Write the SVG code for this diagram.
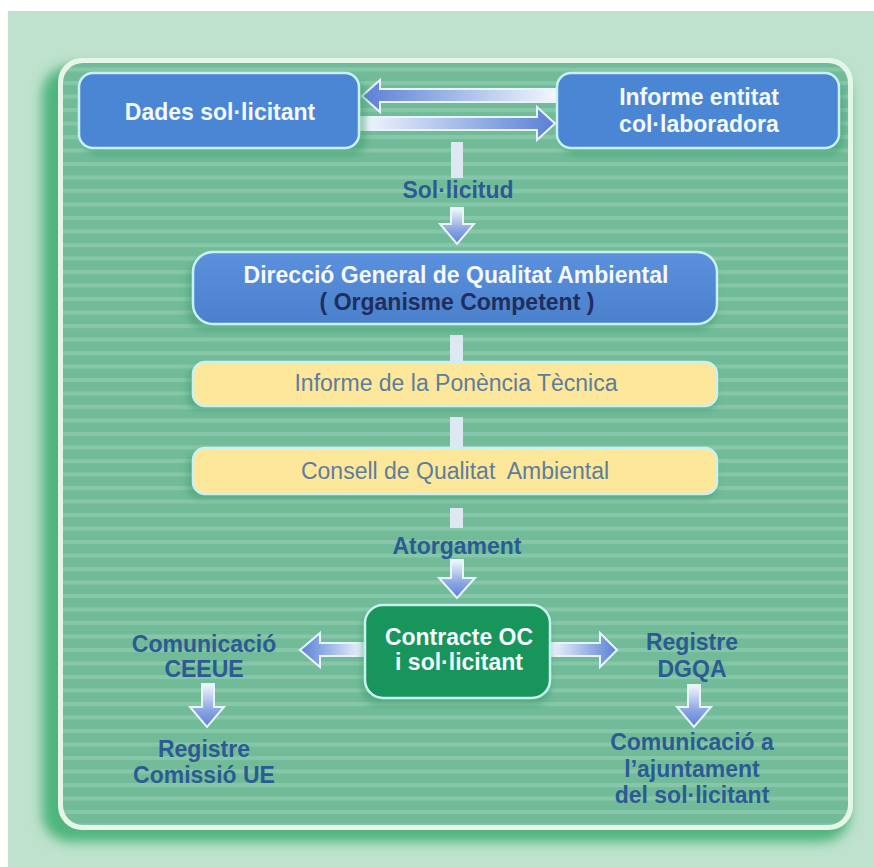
<svg xmlns="http://www.w3.org/2000/svg" width="874" height="867" viewBox="0 0 874 867">
<defs>
  <pattern id="stripes" x="0" y="0" width="20" height="13.5" patternUnits="userSpaceOnUse">
    <rect width="20" height="13.5" fill="#72bb99"/>
    <rect y="0" width="20" height="4" fill="#87c7a9"/>
  </pattern>
  <linearGradient id="gR" x1="0" y1="0" x2="1" y2="0">
    <stop offset="0" stop-color="#f4f8fc"/><stop offset="0.75" stop-color="#7f9ee0"/><stop offset="1" stop-color="#5b7fd6"/>
  </linearGradient>
  <linearGradient id="gL" x1="1" y1="0" x2="0" y2="0">
    <stop offset="0" stop-color="#f4f8fc"/><stop offset="0.75" stop-color="#7f9ee0"/><stop offset="1" stop-color="#5b7fd6"/>
  </linearGradient>
  <linearGradient id="gD" x1="0" y1="0" x2="0" y2="1">
    <stop offset="0" stop-color="#f4f8fc"/><stop offset="0.6" stop-color="#8aa6e2"/><stop offset="1" stop-color="#5b7fd6"/>
  </linearGradient>
  <linearGradient id="gBlue" x1="0" y1="0" x2="0" y2="1">
    <stop offset="0" stop-color="#5a90dc"/><stop offset="1" stop-color="#4a80cc"/>
  </linearGradient>
  <filter id="blur" x="-10%" y="-10%" width="120%" height="120%"><feGaussianBlur stdDeviation="6"/></filter>
  <filter id="sh" x="-10%" y="-20%" width="130%" height="160%"><feGaussianBlur stdDeviation="3"/></filter>
</defs>
<style>
  .lbl{font-family:"Liberation Sans",Arial,sans-serif;font-weight:bold;font-size:23px;fill:#2c5b93;text-anchor:middle}
  .wt{font-family:"Liberation Sans",Arial,sans-serif;font-weight:bold;font-size:23px;fill:#f4f8ff;text-anchor:middle}
  .yt{font-family:"Liberation Sans",Arial,sans-serif;font-size:23px;fill:#5d7d9c;text-anchor:middle}
  .nv{font-family:"Liberation Sans",Arial,sans-serif;font-weight:bold;font-size:23px;fill:#1f2e5c;text-anchor:middle}
  .blue{fill:#4a86d4;stroke:#c9f1f2;stroke-width:2.5}
  .yel{fill:#fde79a;stroke:#c9f1f2;stroke-width:2.5}
  .grn{fill:#17955b;stroke:#c9f1f2;stroke-width:2.5}
  .shd{fill:#3f9f6f;opacity:0.5}
  .arr{stroke:#e8f4f8;stroke-width:2;stroke-linejoin:miter}
  .seg{fill:#dde8f2}
</style>
<rect x="0" y="0" width="874" height="867" fill="#ffffff"/>
<rect x="8" y="11" width="866" height="856" fill="#bee2cd"/>
<!-- panel -->
<rect x="42" y="66" width="808" height="776" rx="28" fill="#4fb57d" filter="url(#blur)"/>
<rect x="58" y="58" width="795" height="772" rx="24" fill="#e6f5e8"/>
<rect x="63" y="63" width="785" height="762" rx="20" fill="url(#stripes)"/>

<!-- connectors -->
<g id="connectors">
  <polygon class="arr" fill="url(#gL)" points="557,89 380,89 380,80 362,96 380,112 380,102 557,102"/>
  <polygon class="arr" fill="url(#gR)" points="360,117 537,117 537,107 555,123.5 537,140 537,130 360,130"/>
  <rect class="seg" x="451" y="142" width="12" height="36" fill="#eef2f8"/>
  <polygon class="arr" fill="url(#gD)" points="451,208 463,208 463,224 474,224 457,244 440,224 451,224"/>
  <rect class="seg" x="450" y="335" width="13" height="26"/>
  <rect class="seg" x="450" y="417" width="13" height="30"/>
  <rect class="seg" x="450" y="508" width="13" height="20"/>
  <polygon class="arr" fill="url(#gD)" points="451,560 463,560 463,578 475,578 457,598 439,578 451,578"/>
  <polygon class="arr" fill="url(#gL)" points="365,643 320,643 320,633 300,650 320,667 320,656 365,656"/>
  <polygon class="arr" fill="url(#gR)" points="549,643 600,643 600,633 617,650 600,667 600,656 549,656"/>
  <polygon class="arr" fill="url(#gD)" points="202,684 214,684 214,707 224,707 207,727 190,707 202,707"/>
  <polygon class="arr" fill="url(#gD)" points="688,685 700,685 700,707 711,707 694,727 677,707 688,707"/>
</g>

<g id="n-dades">
  <rect class="shd" x="84" y="80" width="282" height="76" rx="14" filter="url(#sh)"/>
  <rect class="blue" x="79" y="73" width="280" height="75" rx="14"/>
  <text class="wt" x="220" y="120">Dades sol·licitant</text>
</g>
<g id="n-informe-entitat">
  <rect class="shd" x="562" y="80" width="282" height="76" rx="14" filter="url(#sh)"/>
  <rect class="blue" x="557" y="73" width="282" height="75" rx="14"/>
  <text class="wt" x="699" y="105">Informe entitat</text>
  <text class="wt" x="699" y="132">col·laboradora</text>
</g>
<text class="lbl" x="458" y="198">Sol·licitud</text>
<g id="n-dgqa">
  <rect class="shd" x="187" y="258" width="530" height="73" rx="20" filter="url(#sh)"/>
  <rect fill="url(#gBlue)" stroke="#c9f1f2" stroke-width="2.5" x="193" y="252" width="524" height="72" rx="20"/>
  <text class="wt" x="456" y="283">Direcció General de Qualitat Ambiental</text>
  <text class="nv" x="457" y="310">( Organisme Competent )</text>
</g>
<g id="n-ponencia">
  <rect class="shd" x="187" y="367" width="530" height="44" rx="12" filter="url(#sh)"/>
  <rect class="yel" x="193" y="362" width="524" height="44" rx="12"/>
  <text class="yt" x="456" y="391">Informe de la Ponència Tècnica</text>
</g>
<g id="n-consell">
  <rect class="shd" x="187" y="453" width="530" height="46" rx="12" filter="url(#sh)"/>
  <rect class="yel" x="193" y="448" width="524" height="46" rx="12"/>
  <text class="yt" x="455" y="479" xml:space="preserve">Consell de Qualitat  Ambiental</text>
</g>
<text class="lbl" x="457" y="554">Atorgament</text>
<g id="n-contracte">
  <rect class="shd" x="361" y="611" width="190" height="95" rx="18" filter="url(#sh)"/>
  <rect class="grn" x="365" y="605" width="185" height="93" rx="18"/>
  <text class="wt" x="459" y="645">Contracte OC</text>
  <text class="wt" x="459" y="670">i sol·licitant</text>
</g>
<g id="n-comunicacio-ceeue">
  <text class="lbl" x="204" y="652">Comunicació</text>
  <text class="lbl" x="204" y="677">CEEUE</text>
</g>
<g id="n-registre-ue">
  <text class="lbl" x="204" y="757">Registre</text>
  <text class="lbl" x="204" y="783">Comissió UE</text>
</g>
<g id="n-registre-dgqa">
  <text class="lbl" x="692" y="650">Registre</text>
  <text class="lbl" x="692" y="677">DGQA</text>
</g>
<g id="n-comunicacio-ajuntament">
  <text class="lbl" x="692" y="750">Comunicació a</text>
  <text class="lbl" x="692" y="777">l’ajuntament</text>
  <text class="lbl" x="692" y="803">del sol·licitant</text>
</g>
</svg>
